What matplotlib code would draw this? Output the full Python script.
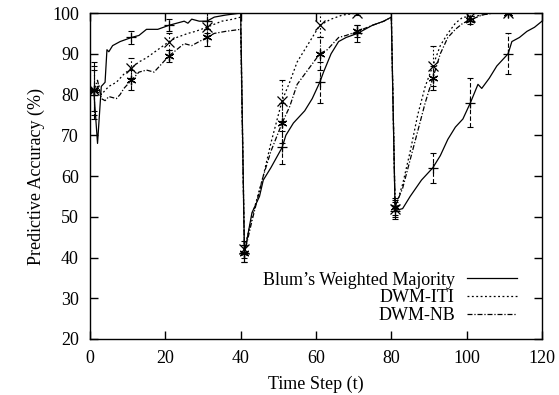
import matplotlib
matplotlib.use("Agg")
import matplotlib.pyplot as plt
import numpy as np

plt.rcParams["font.family"] = ["Liberation Serif", "DejaVu Serif"]

# Blum's Weighted Majority
blum_t = [1, 2, 3, 4, 4.5, 5, 6, 8, 11, 13, 15, 18, 21, 23, 25, 26, 27, 29, 31, 33, 36, 40,
          41, 42, 43, 45, 46, 48, 51, 52, 54, 56, 57, 59, 61, 62, 64, 66, 68, 71, 73, 75, 78, 80,
          81, 83, 85, 88, 91, 93, 95, 97, 99, 101, 103, 104, 106, 108, 111, 112, 114, 116, 118, 120]
blum_y = [81, 68, 82, 83, 91, 90.5, 92, 93, 94, 94.5, 96, 96, 97, 97.5, 98, 97.5, 98.5, 98, 98, 99, 99.5, 100,
          41, 46, 51, 55, 59, 62, 67, 70, 73, 75, 76, 79, 83, 85.5, 90, 93, 94, 95, 96, 97, 98, 99,
          51.5, 52, 55, 59, 62, 65, 69, 72, 74, 78, 82.5, 81.5, 84, 87, 90, 93, 94, 95.5, 96.5, 98]

# DWM-ITI
iti_t = [1, 2, 3, 4, 5, 7, 9, 11, 13, 15, 18, 21, 23, 26, 28, 31, 35, 38, 40,
         41, 43, 46, 48, 51, 53, 55, 57, 59, 61, 64, 67, 71, 75, 80,
         81, 83, 85, 87, 89, 91, 93, 95, 97, 99, 101, 104, 107, 111, 120]
iti_y = [81, 82, 80, 81, 82, 83, 85, 86.5, 88, 89, 91, 93, 94, 95, 95.5, 96.5, 98, 98.5, 99,
         42, 50, 60, 68, 78.5, 83, 88, 91, 94, 97, 98.5, 99.5, 100, 100, 100,
         52, 58, 66, 75, 82, 87, 92, 95, 97.5, 99, 99, 99.5, 100, 100, 100]

# DWM-NB
nb_t = [1, 2, 3, 4, 5, 7, 8, 9, 11, 13, 15, 17, 19, 21, 23, 25, 27, 29, 31, 33, 36, 40,
        41, 43, 46, 48, 51, 53, 55, 57, 59, 61, 63, 66, 68, 71, 75, 78, 80,
        81, 83, 85, 87, 89, 91, 93, 95, 97, 99, 101, 104, 107, 111, 120]
nb_y = [81, 83.5, 79, 78.5, 79.5, 79, 80, 81.5, 83.5, 85.5, 86, 85.5, 87.5, 89.5, 91, 92.5, 92, 93, 94, 95, 95.5, 96,
        41, 49, 60, 66, 73, 77, 82.5, 85, 87.5, 90, 91, 94, 94.5, 95.5, 97, 98, 99,
        52.5, 57, 64, 71, 78, 84, 90, 94, 96, 97.5, 98.3, 99.5, 100, 100, 100]

# error bar positions and half-widths
err_t = [1, 11, 21, 31, 41, 51, 61, 71, 81, 91, 101, 111]
blum_err = [7, 1.5, 1.5, 2, 2, 4, 5, 2, 2, 3.7, 6, 5]
iti_err = [6, 2.5, 2, 1.5, 2, 5, 3, 0.5, 2, 5, 1, 0.3]
nb_err = [5, 2.5, 1.5, 2, 2, 5, 4, 1.5, 2, 3, 1, 0.3]

fig = plt.figure(figsize=(5.59, 3.95), dpi=100)
ax = fig.add_axes([0.161, 0.1418, 0.8086, 0.8252])

asterisk = (6, 2, 0)
series = [
    ("Blum\u2019s Weighted Majority", blum_t, blum_y, blum_err, "-", "+"),
    ("DWM-ITI", iti_t, iti_y, iti_err, (0, (1.5, 2)), "x"),
    ("DWM-NB", nb_t, nb_y, nb_err, (0, (4, 1.5, 1, 1.5)), asterisk),
]

for label, ts, ys, errs, ls, mk in series:
    ax.plot(ts, ys, color="black", lw=0.9, ls=ls, label=label)
    lookup = dict(zip(ts, ys))
    ey = [lookup[t] for t in err_t]
    eb = ax.errorbar(err_t, ey, yerr=errs, fmt="none", ecolor="black",
                     elinewidth=0.8, capsize=2.5, capthick=0.8)
    eb[2][0].set_linestyle(ls if ls != "-" else (0, (4, 2)))
    ax.plot(err_t, ey, ls="none", marker=mk, color="black", ms=7, mew=0.9)

ax.set_xlim(0, 120)
ax.set_ylim(20, 100)
ax.set_xticks(range(0, 121, 20))
ax.set_yticks(range(20, 101, 10))
ax.tick_params(direction="in", length=6, width=1, top=True, right=True,
               labelsize=13, pad=8)
for sp in ax.spines.values():
    sp.set_linewidth(1)

ax.set_xlabel("Time Step (t)", fontsize=13, labelpad=6)
ax.set_ylabel("Predictive Accuracy (%)", fontsize=13, labelpad=5)

ax.legend(loc="lower right", bbox_to_anchor=(0.945, 0.045), frameon=False,
          markerfirst=False, fontsize=13, handlelength=2.8, handletextpad=0.65,
          labelspacing=0.05, borderaxespad=0, borderpad=0)

fig.savefig("out.png", dpi=100)
